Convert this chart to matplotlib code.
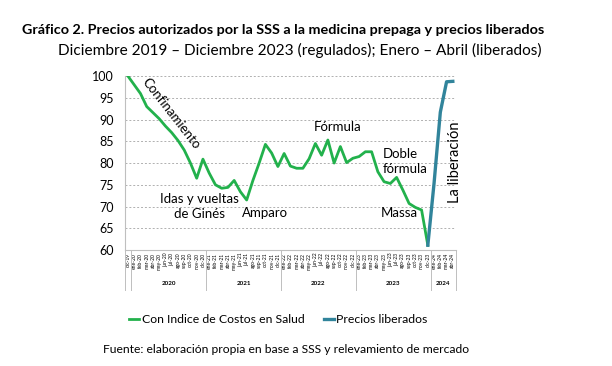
import matplotlib
matplotlib.use("Agg")
import matplotlib.pyplot as plt
import numpy as np

plt.rcParams['font.family'] = ['Lato', 'DejaVu Sans']

# months dic-19 .. abr-24
meses = ["ene", "feb", "mar", "abr", "may", "jun", "jul", "ago", "sep", "oct", "nov", "dic"]
labels = ["dic-19"]
for yr in ["20", "21", "22", "23"]:
    labels += [m + "-" + yr for m in meses]
labels += [m + "-24" for m in meses[:4]]

years = ["2020", "2021", "2022", "2023", "2024"]

# regulated prices (dic-19 .. dic-23)
regulados = [100, 98, 96, 93, 91.6, 90.2, 88.5, 87, 85.2, 83, 80, 76.5, 80.9,
             77.7, 75, 74.2, 74.4, 76, 73.4, 71.5, 76, 80, 84.3, 82.3, 79.2,
             82.2, 79.3, 78.8, 78.8, 81, 84.5, 81.8, 85.3, 80, 83.8, 80.1, 81.1,
             81.5, 82.6, 82.6, 78, 75.7, 75.3, 76.7, 73.8, 70.7, 69.8, 69.2, 61.1]
# liberated prices (dic-23 .. abr-24)
liberados = [61.1, 75.4, 91.7, 98.7, 98.8]

green = "#22b14c"
blue = "#31849b"

fig = plt.figure(figsize=(6.12, 3.66), dpi=100)
ax = fig.add_axes([0.204, 0.317, 0.541, 0.475])

x_reg = np.arange(len(regulados))
x_lib = np.arange(len(regulados) - 1, len(regulados) - 1 + len(liberados))
ax.plot(x_reg, regulados, color=green, lw=2.0, label="Con Indice de Costos en Salud", zorder=3)
ax.plot(x_lib, liberados, color=blue, lw=2.4, label="Precios liberados", zorder=4)

ax.set_xlim(-0.5, len(labels) - 0.5)
ax.set_ylim(60, 100)
ax.set_yticks(np.arange(60, 101, 5))
ax.tick_params(axis='y', labelsize=9, length=0, pad=8)
ax.grid(axis='y', color="#b0b0b0", ls=(0, (2, 2)), lw=0.7)
ax.set_axisbelow(True)

ax.set_xticks(np.arange(len(labels)))
ax.set_xticklabels(labels, rotation=90, fontsize=3.6)
ax.tick_params(axis='x', length=0, pad=2)

for s in ["top", "right"]:
    ax.spines[s].set_visible(False)
ax.spines["left"].set_color("#bfbfbf")
ax.spines["bottom"].set_color("#bfbfbf")

# year separators and labels
tr = ax.get_xaxis_transform()
bounds = [-0.5, 0.5, 12.5, 24.5, 36.5, 48.5, 52.5]
for b in bounds:
    ax.plot([b, b], [0, -0.23], color="#bfbfbf", lw=0.7, transform=tr, clip_on=False)
for i, yname in enumerate(years):
    c = (bounds[i + 1] + bounds[i + 2]) / 2
    ax.text(c, -0.19, yname, transform=tr, ha='center', va='center',
            fontsize=4.5, fontweight='bold')

# annotations
fs = 9.5
ax.text(6.9, 91.5, "Confinamiento", rotation=-52, ha='center', va='center', fontsize=fs)
ax.text(11.5, 70.0, "Idas y vueltas\nde Ginés", ha='center', va='center', fontsize=fs,
        linespacing=1.25)
ax.text(22.0, 68.5, "Amparo", ha='center', va='center', fontsize=fs)
ax.text(33.6, 88.3, "Fórmula", ha='center', va='center', fontsize=fs)
ax.text(40.8, 80.3, "Doble\nfórmula", ha='left', va='center', fontsize=fs, linespacing=1.25)
ax.text(40.5, 68.5, "Massa", ha='left', va='center', fontsize=fs)
ax.text(52.3, 80.2, "La liberación", rotation=90, ha='center', va='center', fontsize=10.5)

fig.text(0.462, 0.918, "Gráfico 2. Precios autorizados por la SSS a la medicina prepaga y precios liberados",
         ha='center', va='center', fontsize=10.4, fontweight='bold')
fig.text(0.49, 0.863, "Diciembre 2019 – Diciembre 2023 (regulados); Enero – Abril (liberados)",
         ha='center', va='center', fontsize=11.1)

fig.legend(loc='center', bbox_to_anchor=(0.455, 0.126), ncol=2, frameon=False,
           fontsize=8.8, handlelength=0.8, handletextpad=0.2, columnspacing=1.6)

fig.text(0.468, 0.044, "Fuente: elaboración propia en base a SSS y relevamiento de mercado",
         ha='center', va='center', fontsize=8.7)

fig.savefig("out.png", dpi=100)
